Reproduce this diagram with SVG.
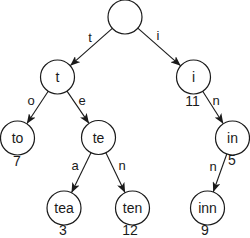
<svg xmlns="http://www.w3.org/2000/svg" width="250" height="238" viewBox="0 0 250 238">
<defs>
<style>
.node circle{fill:#fff;stroke:#1a1a1a;stroke-width:1.2}
.node text{font-family:"Liberation Sans",Arial,sans-serif;font-size:14px;fill:#1a1a1a;text-anchor:middle}
.edges line{stroke:#1a1a1a;stroke-width:1.1;marker-end:url(#arr)}
.lbl{font-family:"Liberation Sans",Arial,sans-serif;font-size:13px;fill:#1a1a1a;text-anchor:middle}
.num{font-family:"Liberation Sans",Arial,sans-serif;font-size:14px;fill:#1a1a1a;text-anchor:middle}
</style>
<marker id="arr" viewBox="0 0 10 8" refX="10" refY="4" markerWidth="10" markerHeight="8" markerUnits="userSpaceOnUse" orient="auto">
<path d="M0,0 L10,4 L0,8 L2.5,4 z" fill="#1a1a1a"/>
</marker>
</defs>
<rect width="250" height="238" fill="#fff"/>
<g class="edges" id="connectors">
<line x1="112.3" y1="28.3" x2="70.2" y2="65.7"/>
<line x1="137.8" y1="28.2" x2="180.7" y2="65.8"/>
<line x1="48.2" y1="91.2" x2="26.8" y2="123.8"/>
<line x1="67.0" y1="91.1" x2="89.0" y2="123.4"/>
<line x1="202.7" y1="91.3" x2="223.3" y2="123.7"/>
<line x1="91.0" y1="152.8" x2="71.5" y2="192.7"/>
<line x1="105.9" y1="152.8" x2="125.1" y2="192.7"/>
<line x1="226.8" y1="154.0" x2="213.2" y2="192.0"/>
<text class="lbl" x="90" y="41.5">t</text>
<text class="lbl" x="158" y="40">i</text>
<text class="lbl" x="31" y="105">o</text>
<text class="lbl" x="82" y="105">e</text>
<text class="lbl" x="216" y="105">n</text>
<text class="lbl" x="75" y="170">a</text>
<text class="lbl" x="122" y="170">n</text>
<text class="lbl" x="213" y="170.5">n</text>
</g>
<g class="node" id="root"><circle cx="125" cy="17" r="17"/></g>
<g class="node" id="n-t"><circle cx="57.5" cy="77" r="17"/><text x="57.5" y="82">t</text></g>
<g class="node" id="n-i"><circle cx="193.5" cy="77" r="17"/><text x="193.5" y="82">i</text><text class="num" x="192.5" y="106">11</text></g>
<g class="node" id="n-to"><circle cx="17.5" cy="138" r="17"/><text x="17.5" y="143">to</text><text class="num" x="17" y="166">7</text></g>
<g class="node" id="n-te"><circle cx="98.5" cy="137.5" r="17"/><text x="98.5" y="142.5">te</text></g>
<g class="node" id="n-in"><circle cx="232.5" cy="138" r="17"/><text x="232.5" y="143">in</text><text class="num" x="232" y="164.5">5</text></g>
<g class="node" id="n-tea"><circle cx="64" cy="208" r="17"/><text x="64" y="213">tea</text><text class="num" x="63" y="235">3</text></g>
<g class="node" id="n-ten"><circle cx="132.5" cy="208" r="17"/><text x="132.5" y="213">ten</text><text class="num" x="130" y="235">12</text></g>
<g class="node" id="n-inn"><circle cx="207.5" cy="208" r="17"/><text x="207.5" y="213">inn</text><text class="num" x="205" y="235">9</text></g>
</svg>
